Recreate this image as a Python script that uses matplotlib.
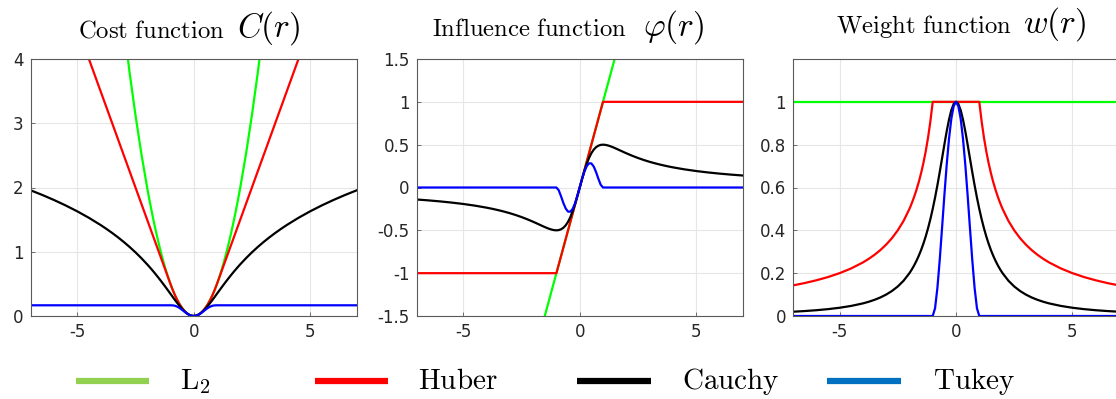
"""Cost, influence and weight functions of four robust estimators."""

import matplotlib
matplotlib.use("Agg")
import matplotlib.pyplot as plt
import numpy as np
from matplotlib.lines import Line2D

plt.rcParams["mathtext.fontset"] = "cm"
plt.rcParams["axes.unicode_minus"] = False
plt.rcParams["font.family"] = "DejaVu Sans"

# residual samples (non-negative half, mirrored when drawn)
R_HALF = [0, 0.1, 0.2, 0.3, 0.4, 0.5, 0.6, 0.7, 0.8, 0.9, 1.0, 1.1, 1.2, 1.3,
          1.4, 1.5, 1.6, 1.7, 1.8, 1.9, 2, 2.25, 2.5, 2.75, 3, 3.25, 3.5, 3.75,
          4, 4.5, 5, 5.5, 6, 6.5, 7]

# cost C(r) (even)
COST_L2 = [0, 0.005, 0.02, 0.045, 0.08, 0.125, 0.18, 0.245, 0.32, 0.405, 0.5,
           0.605, 0.72, 0.845, 0.98, 1.125, 1.28, 1.445, 1.62, 1.805, 2.0,
           2.531, 3.125, 3.781, 4.5, 5.281, 6.125, 7.031, 8, 10.1, 12.5, 15.1,
           18, 21.1, 24.5]
COST_HUBER = [0, 0.005, 0.02, 0.045, 0.08, 0.125, 0.18, 0.245, 0.32, 0.405,
              0.5, 0.6, 0.7, 0.8, 0.9, 1.0, 1.1, 1.2, 1.3, 1.4, 1.5, 1.75, 2.0,
              2.25, 2.5, 2.75, 3.0, 3.25, 3.5, 4.0, 4.5, 5.0, 5.5, 6.0, 6.5]
COST_CAUCHY = [0, 0.005, 0.0196, 0.0431, 0.0742, 0.1116, 0.1537, 0.1994,
               0.2473, 0.2966, 0.3466, 0.3965, 0.446, 0.4948, 0.5426, 0.5893,
               0.6349, 0.6792, 0.7223, 0.7641, 0.8047, 0.9011, 0.9905, 1.0737,
               1.1513, 1.2239, 1.292, 1.3561, 1.4166, 1.5282, 1.629, 1.721,
               1.8055, 1.8835, 1.956]
COST_TUKEY = [0, 0.005, 0.0192, 0.0411, 0.0679, 0.0964, 0.123, 0.1446, 0.1589,
              0.1655] + [0.1667] * 25

# influence phi(r) (odd)
INFL_L2 = [0, 0.1, 0.2, 0.3, 0.4, 0.5, 0.6, 0.7, 0.8, 0.9, 1.0, 1.1, 1.2, 1.3,
           1.4, 1.5, 1.6, 1.7, 1.8, 1.9, 2, 2.25, 2.5, 2.75, 3, 3.25, 3.5,
           3.75, 4, 4.5, 5, 5.5, 6, 6.5, 7]
INFL_HUBER = [0, 0.1, 0.2, 0.3, 0.4, 0.5, 0.6, 0.7, 0.8, 0.9] + [1.0] * 25
INFL_CAUCHY = [0, 0.099, 0.1923, 0.2752, 0.3448, 0.4, 0.4412, 0.4698, 0.4878,
               0.4972, 0.5, 0.4977, 0.4918, 0.4833, 0.473, 0.4615, 0.4494,
               0.437, 0.4245, 0.4121, 0.4, 0.3711, 0.3448, 0.3212, 0.3, 0.2811,
               0.2642, 0.249, 0.2353, 0.2118, 0.1923, 0.176, 0.1622, 0.1503,
               0.14]
INFL_TUKEY = [0, 0.098, 0.1843, 0.2484, 0.2822, 0.2813, 0.2458, 0.1821, 0.1037,
              0.0325] + [0] * 25

# weight w(r) (even)
WEIGHT_L2 = [1.0] * 35
WEIGHT_HUBER = [1] * 11 + [0.9091, 0.8333, 0.7692, 0.7143, 0.6667, 0.625,
                           0.5882, 0.5556, 0.5263, 0.5, 0.4444, 0.4, 0.3636,
                           0.3333, 0.3077, 0.2857, 0.2667, 0.25, 0.2222, 0.2,
                           0.1818, 0.1667, 0.1538, 0.1429]
WEIGHT_CAUCHY = [1, 0.9901, 0.9615, 0.9174, 0.8621, 0.8, 0.7353, 0.6711,
                 0.6098, 0.5525, 0.5, 0.4525, 0.4098, 0.3717, 0.3378, 0.3077,
                 0.2809, 0.2571, 0.2358, 0.2169, 0.2, 0.1649, 0.1379, 0.1168,
                 0.1, 0.0865, 0.0755, 0.0664, 0.0588, 0.0471, 0.0385, 0.032,
                 0.027, 0.0231, 0.02]
WEIGHT_TUKEY = [1, 0.9801, 0.9216, 0.8281, 0.7056, 0.5625, 0.4096, 0.2601,
                0.1296, 0.0361] + [0] * 25

NAMES = [r"$\mathrm{L}_2$", r"$\mathrm{Huber}$", r"$\mathrm{Cauchy}$",
         r"$\mathrm{Tukey}$"]
LINE_COLORS = ["#00ff00", "#ff0000", "#000000", "#0000ff"]
KEY_COLORS = ["#92d050", "#ff0000", "#000000", "#0070c0"]

W, H = 1116, 399
INK = "#262626"


def _full(half, odd=False):
    h = np.asarray(half, dtype=float)
    left = -h[:0:-1] if odd else h[:0:-1]
    return np.concatenate([left, h])


R = _full(R_HALF, odd=True)


def _style_axes(ax, ylim, yticks, yticklabels):
    ax.set_xlim(-7, 7)
    ax.set_ylim(*ylim)
    ax.set_xticks([-5, 0, 5])
    ax.set_xticklabels(["-5", "0", "5"])
    ax.set_yticks(yticks)
    ax.set_yticklabels(yticklabels)
    ax.grid(True, color="#e6e6e6", linewidth=0.8)
    ax.set_axisbelow(True)
    for sp in ax.spines.values():
        sp.set_color("#5a5a5a")
        sp.set_linewidth(0.8)
    ax.tick_params(direction="in", length=3, width=0.6, color="#5a5a5a",
                   labelsize=12, labelcolor=INK, pad=5)


def _px(x, y):
    return x / W, 1 - y / H


fig = plt.figure(figsize=(W / 100, H / 100), dpi=100)
bottom, height = 1 - 316 / H, 257 / H
axw = 326 / W
ax1 = fig.add_axes([30.7 / W, bottom, axw, height])
ax2 = fig.add_axes([416.7 / W, bottom, axw, height])
ax3 = fig.add_axes([793 / W, bottom, axw, height])

panels = [
    (ax1, [COST_L2, COST_HUBER, COST_CAUCHY, COST_TUKEY], False),
    (ax2, [INFL_L2, INFL_HUBER, INFL_CAUCHY, INFL_TUKEY], True),
    (ax3, [WEIGHT_L2, WEIGHT_HUBER, WEIGHT_CAUCHY, WEIGHT_TUKEY], False),
]
for ax, series, odd in panels:
    for vals, color in zip(series, LINE_COLORS):
        ax.plot(R, _full(vals, odd), color=color, linewidth=1.6)

_style_axes(ax1, (0, 4), [0, 1, 2, 3, 4], ["0", "1", "2", "3", "4"])
_style_axes(ax2, (-1.5, 1.5), [-1.5, -1, -0.5, 0, 0.5, 1, 1.5],
            ["-1.5", "-1", "-0.5", "0", "0.5", "1", "1.5"])
_style_axes(ax3, (0, 1.2), [0, 0.2, 0.4, 0.6, 0.8, 1],
            ["0", "0.2", "0.4", "0.6", "0.8", "1"])

# titles: roman text + larger math symbol
titles = [
    (78, 37, r"$\mathrm{Cost\ function}$", 237, r"$C(r)$"),
    (432, 36, r"$\mathrm{Influence\ function}$", 643, r"$\varphi(r)$"),
    (836, 33, r"$\mathrm{Weight\ function}$", 1023, r"$w(r)$"),
]
for tx, ty, text, mx, math in titles:
    fig.text(*_px(tx, ty), text, fontsize=17.8, color="black",
             ha="left", va="baseline")
    fig.text(*_px(mx, ty), math, fontsize=24, color="black",
             ha="left", va="baseline")

# legend row
key_x = [(75.7, 149, 180), (315, 388, 418), (577, 651, 682), (826.7, 900.7, 933)]
for (x0, x1, xt), name, color in zip(key_x, NAMES, KEY_COLORS):
    fig.add_artist(Line2D([x0 / W, x1 / W], [1 - 381 / H] * 2, color=color,
                          linewidth=4.5, transform=fig.transFigure,
                          solid_capstyle="butt"))
    fig.text(*_px(xt, 389), name, fontsize=21, color="black",
             ha="left", va="baseline")

fig.savefig("out.png", dpi=100)
